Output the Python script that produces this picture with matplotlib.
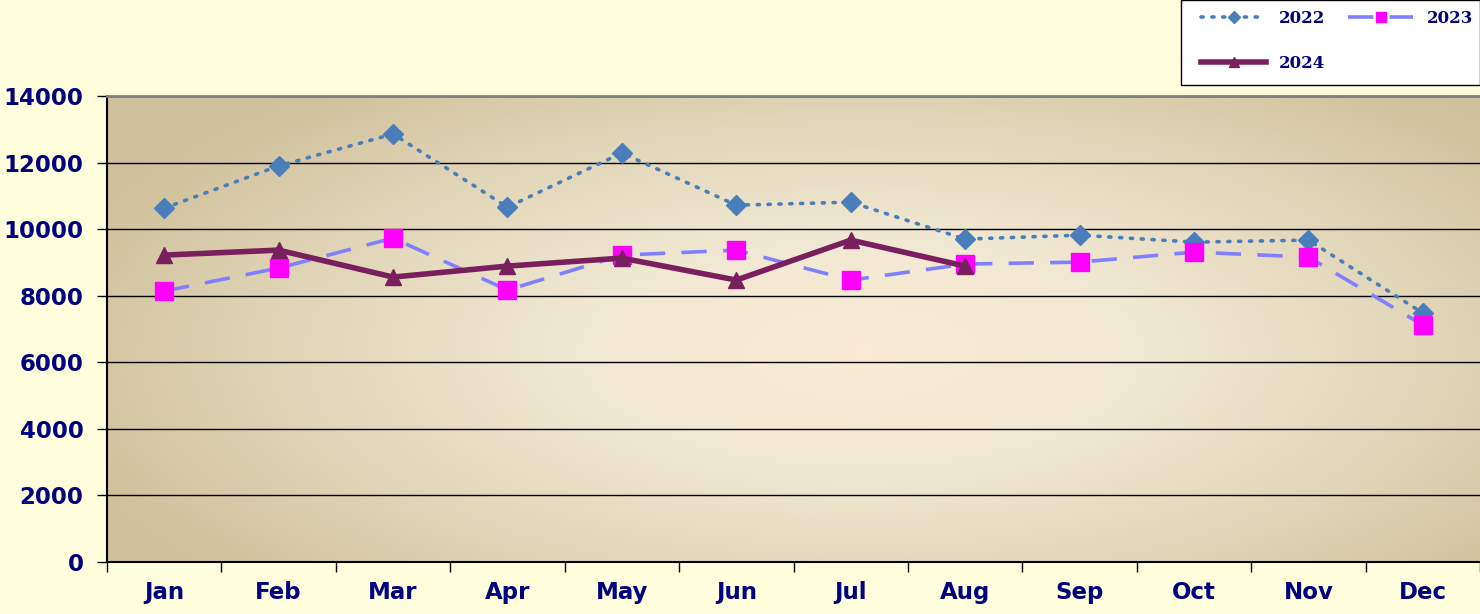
import numpy as np
import matplotlib
matplotlib.use('Agg')
import matplotlib.pyplot as plt
from matplotlib.colors import LinearSegmentedColormap
from matplotlib.patches import Rectangle

months = ['Jan', 'Feb', 'Mar', 'Apr', 'May', 'Jun',
          'Jul', 'Aug', 'Sep', 'Oct', 'Nov', 'Dec']
sales_2022 = [10630, 11900, 12860, 10660, 12290, 10720,
              10810, 9700, 9820, 9610, 9670, 7480]
sales_2023 = [8140, 8830, 9730, 8170, 9220, 9370,
              8470, 8950, 9010, 9310, 9160, 7120]
sales_2024 = [9220, 9370, 8560, 8890, 9130, 8470, 9670, 8890]

NAVY = '#000080'
TICK_FONT = {'family': 'DejaVu Sans', 'weight': 'bold', 'size': 16.5}

fig = plt.figure(figsize=(14.8, 6.14), dpi=100, facecolor='#FFFFDD')
ax = fig.add_axes([107 / 1480, 1 - 562 / 614, 1 - 107 / 1480, (562 - 96) / 614])

# radial background fill of the plot area
gx, gy = np.meshgrid(np.linspace(0, 1, 400), np.linspace(0, 1, 200))
dist = np.sqrt(((gx - 0.55) / 0.62) ** 2 + ((gy - 0.45) / 0.75) ** 2)
dist = np.clip(dist, 0, 1)
cmap = LinearSegmentedColormap.from_list(
    'bg', ['#FBEBD3', '#F1E8D3', '#E2D6B8', '#D0C09B'])
ax.imshow(dist, cmap=cmap, extent=[0, 1, 0, 1], transform=ax.transAxes,
          aspect='auto', origin='lower', zorder=0, interpolation='bilinear')

x = np.arange(len(months))
ax.set_xlim(-0.5, len(months) - 0.5)
ax.set_ylim(0, 14000)

for yv in range(2000, 14001, 2000):
  ax.axhline(yv, color='black', lw=1, zorder=1)

l22, = ax.plot(x, sales_2022, color='#4A7EBB', lw=2.6,
               linestyle=(0, (0.6, 2.4)), dash_capstyle='round',
               marker='D', markersize=10, markerfacecolor='#4A7EBB',
               markeredgecolor='#4A7EBB', zorder=3)
l23, = ax.plot(x, sales_2023, color='#8080FF', lw=2.6,
               linestyle=(0, (7, 4.5)),
               marker='s', markersize=12.5, markerfacecolor='#FF00FF',
               markeredgecolor='#FF00FF', zorder=4)
l24, = ax.plot(x[:len(sales_2024)], sales_2024, color='#7A1F5E', lw=4,
               marker='^', markersize=11.5, markerfacecolor='#7A1F5E',
               markeredgecolor='#7A1F5E', zorder=5)

ax.set_yticks(range(0, 14001, 2000))
ax.set_yticklabels([str(v) for v in range(0, 14001, 2000)], fontdict=TICK_FONT,
                   color=NAVY)
ax.set_xticks(x)
ax.set_xticklabels(months, fontdict=TICK_FONT, color=NAVY)
ax.set_xticks(np.arange(-0.5, len(months), 1), minor=True)
ax.tick_params(axis='x', which='major', length=0, pad=14)
ax.tick_params(axis='x', which='minor', length=7, width=1, color='black')
ax.tick_params(axis='y', length=7, width=1, color='black', pad=10)

ax.spines['right'].set_visible(False)
ax.spines['top'].set_color('#808080')
ax.spines['top'].set_linewidth(2)
ax.spines['left'].set_linewidth(1.5)
ax.spines['bottom'].set_linewidth(1.5)

# legend box in the top right corner
fig.patches.append(Rectangle((1181 / 1480, 1 - 85 / 614), 299 / 1480, 85 / 614,
                             transform=fig.transFigure, facecolor='white',
                             edgecolor='black', lw=1, zorder=0))
leg = fig.legend([l22, l24, l23], ['2022', '2024', '2023'], ncol=2,
                 loc='upper left', bbox_to_anchor=(1186 / 1480, 1 + 5 / 614),
                 frameon=False, handlelength=3.9, labelspacing=1.65,
                 columnspacing=1.35, handletextpad=0.8, markerscale=0.6,
                 prop={'family': 'DejaVu Serif', 'weight': 'bold',
                       'size': 12})
for t in leg.get_texts():
  t.set_color(NAVY)

fig.savefig('out.png', dpi=100, facecolor=fig.get_facecolor())
